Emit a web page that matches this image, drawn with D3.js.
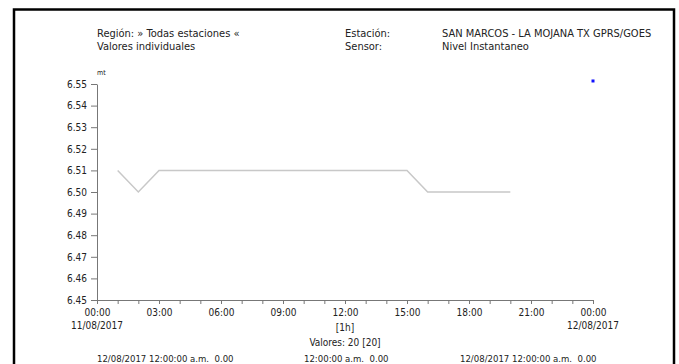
<!DOCTYPE html>
<html>
<head>
<meta charset="utf-8">
<script src="https://cdn.jsdelivr.net/npm/d3@7"></script>
<style>
  body { margin: 0; background: #fff; }
  svg text { font-family: "Liberation Sans Narrow", "DejaVu Sans Condensed", "Liberation Sans", sans-serif; fill: #222; }
  .axis path, .axis line { stroke: #777; }
</style>
</head>
<body>
<div id="chart"></div>
<script>
// hourly readings, 11/08/2017 01:00 .. 20:00
const horas = [1, 2, 3, 4, 5, 6, 7, 8, 9, 10, 11, 12, 13, 14, 15, 16, 17, 18, 19, 20];
const nivel = [6.51, 6.50, 6.51, 6.51, 6.51, 6.51, 6.51, 6.51, 6.51, 6.51,
               6.51, 6.51, 6.51, 6.51, 6.51, 6.50, 6.50, 6.50, 6.50, 6.50];
const marcaHora = [24];
const marcaValor = [6.5514];
const yTicks = [6.45, 6.46, 6.47, 6.48, 6.49, 6.50, 6.51, 6.52, 6.53, 6.54, 6.55];
const encabezado = [
  ["Región: » Todas estaciones «", "Estación:", "SAN MARCOS - LA MOJANA TX GPRS/GOES"],
  ["Valores individuales", "Sensor:", "Nivel Instantaneo"]
];
const pie = ["12/08/2017 12:00:00 a.m.  0.00", "12:00:00 a.m.  0.00", "12/08/2017 12:00:00 a.m.  0.00"];

const fullWidth = 679, fullHeight = 364;
const margin = { top: 84, left: 97 };
const width = 496, height = 216;

const svg = d3.select("#chart")
  .append("svg")
  .attr("width", fullWidth)
  .attr("height", fullHeight);

// marco
svg.append("rect")
  .attr("x", 14).attr("y", 9.5)
  .attr("width", 660).attr("height", 400)
  .attr("fill", "none")
  .attr("stroke", "#000")
  .attr("stroke-width", 2.5);

const t0 = new Date(2017, 7, 11, 0, 0);
const hora = h => new Date(2017, 7, 11, h, 0);

const x = d3.scaleTime().domain([t0, hora(24)]).range([0, width]);
const y = d3.scaleLinear().domain([6.45, 6.55]).range([height, 0]);

const g = svg.append("g")
  .attr("transform", `translate(${margin.left},${margin.top})`);

// encabezado
const colX = [97, 345, 442];
encabezado.forEach((fila, i) => {
  fila.forEach((txt, j) => {
    svg.append("text")
      .attr("x", colX[j])
      .attr("y", 37 + i * 13)
      .style("font-size", "11px")
      .text(txt);
  });
});

g.append("text")
  .attr("x", 0).attr("y", -9)
  .style("font-size", "7px")
  .text("mt");

// eje y
g.append("g")
  .attr("class", "axis")
  .call(d3.axisLeft(y).tickValues(yTicks).tickSize(6).tickSizeOuter(0).tickFormat(d3.format(".2f")))
  .call(a => a.selectAll("text").style("font-size", "10px").attr("x", -10));

// eje x
const tickHoras = d3.range(0, 25).map(hora);
g.append("g")
  .attr("class", "axis")
  .attr("transform", `translate(0,${height})`)
  .call(d3.axisBottom(x).tickValues(tickHoras).tickSize(4).tickSizeOuter(0)
    .tickFormat(d => (d.getHours() % 3 === 0) ? d3.timeFormat("%H:%M")(d) : ""))
  .call(a => a.selectAll("text").style("font-size", "10px").attr("y", 9));

// fechas y notas bajo el eje
const bajo = [
  { x: x(t0), y: 29, t: "11/08/2017" },
  { x: x(hora(24)), y: 29, t: "12/08/2017" },
  { x: x(hora(12)), y: 31, t: "[1h]" },
  { x: x(hora(12)), y: 46, t: "Valores: 20 [20]" }
];
g.selectAll(".bajo")
  .data(bajo)
  .enter()
  .append("text")
  .attr("x", d => d.x)
  .attr("y", d => height + d.y)
  .attr("text-anchor", "middle")
  .style("font-size", "10px")
  .text(d => d.t);

const pieX = [97, 304, 460];
pie.forEach((txt, i) => {
  svg.append("text")
    .attr("x", pieX[i])
    .attr("y", 362)
    .style("font-size", "9.5px")
    .style("white-space", "pre")
    .attr("xml:space", "preserve")
    .text(txt);
});

// serie
const datos = horas.map((h, i) => ({ t: hora(h), v: nivel[i] }));
g.append("path")
  .datum(datos)
  .attr("fill", "none")
  .attr("stroke", "#c8c8c8")
  .attr("stroke-width", 1.5)
  .attr("d", d3.line().x(d => x(d.t)).y(d => y(d.v)));

// marca azul
g.selectAll(".marca")
  .data(marcaHora.map((h, i) => ({ t: hora(h), v: marcaValor[i] })))
  .enter()
  .append("rect")
  .attr("x", d => x(d.t) - 1.5)
  .attr("y", d => y(d.v) - 1.5)
  .attr("width", 3)
  .attr("height", 3)
  .attr("fill", "#1010ff");
</script>
</body>
</html>
